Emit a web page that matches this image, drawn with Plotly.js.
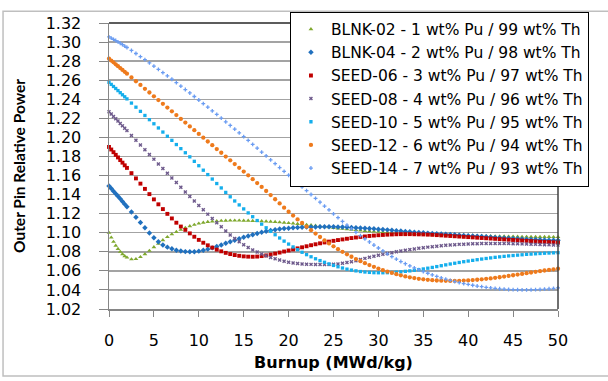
<!DOCTYPE html>
<html>
<head>
<meta charset="utf-8">
<script src="https://cdn.plot.ly/plotly-3.0.1.min.js"></script>
<style>html,body{margin:0;padding:0;background:#fff;}#chart{width:608px;height:381px;}</style>
</head>
<body>
<div id="chart"></div>
<script>
// Burnup (MWd/kg)
const burnup = [0,0.25,0.5,0.75,1,1.25,1.5,1.75,2,
 2.5,3,3.5,4,4.5,5,
 5.5,6,6.5,7,7.5,8,8.5,9,9.5,10,
 10.5,11,11.5,12,12.5,13,13.5,14,14.5,15,
 15.5,16,16.5,17,17.5,18,18.5,19,19.5,20,
 20.5,21,21.5,22,22.5,23,23.5,24,24.5,25,
 25.5,26,26.5,27,27.5,28,28.5,29,29.5,30,
 30.5,31,31.5,32,32.5,33,33.5,34,34.5,35,
 35.5,36,36.5,37,37.5,38,38.5,39,39.5,40,
 40.5,41,41.5,42,42.5,43,43.5,44,44.5,45,
 45.5,46,46.5,47,47.5,48,48.5,49,49.5,50];

const blnk02 = [1.1000,1.0950,1.0905,1.0865,1.0830,1.0800,1.0775,1.0755,1.0740,
 1.0722,1.0724,1.0745,1.0776,1.0811,1.0848,
 1.0886,1.0922,1.0955,1.0984,1.1009,1.1031,1.1052,1.1069,1.1084,1.1097,
 1.1106,1.1113,1.1118,1.1122,1.1125,1.1127,1.1128,1.1128,1.1128,1.1127,
 1.1126,1.1124,1.1123,1.1121,1.1119,1.1116,1.1113,1.1110,1.1106,1.1102,
 1.1098,1.1093,1.1089,1.1084,1.1079,1.1074,1.1068,1.1062,1.1057,1.1051,
 1.1046,1.1041,1.1036,1.1032,1.1028,1.1024,1.1020,1.1017,1.1013,1.1010,
 1.1007,1.1004,1.1001,1.0999,1.0996,1.0994,1.0992,1.0990,1.0988,1.0986,
 1.0984,1.0982,1.0981,1.0979,1.0977,1.0976,1.0974,1.0973,1.0971,1.0970,
 1.0969,1.0968,1.0966,1.0965,1.0964,1.0963,1.0962,1.0961,1.0960,1.0960,
 1.0959,1.0958,1.0958,1.0957,1.0957,1.0956,1.0956,1.0956,1.0955,1.0955];

const blnk04 = [1.1490,1.1463,1.1436,1.1410,1.1383,1.1356,1.1328,1.1300,1.1272,
 1.1217,1.1162,1.1107,1.1052,1.0998,1.0947,
 1.0905,1.0872,1.0849,1.0831,1.0817,1.0808,1.0802,1.0800,1.0801,1.0807,
 1.0816,1.0828,1.0841,1.0856,1.0872,1.0889,1.0906,1.0922,1.0937,1.0952,
 1.0966,1.0979,1.0992,1.1004,1.1015,1.1024,1.1032,1.1039,1.1044,1.1048,
 1.1052,1.1055,1.1057,1.1059,1.1060,1.1061,1.1062,1.1062,1.1062,1.1062,
 1.1061,1.1060,1.1058,1.1056,1.1053,1.1050,1.1047,1.1044,1.1041,1.1037,
 1.1034,1.1030,1.1026,1.1022,1.1018,1.1014,1.1010,1.1006,1.1002,1.0999,
 1.0996,1.0993,1.0990,1.0987,1.0984,1.0981,1.0978,1.0975,1.0972,1.0969,
 1.0966,1.0963,1.0960,1.0957,1.0954,1.0951,1.0948,1.0945,1.0942,1.0940,
 1.0937,1.0935,1.0932,1.0930,1.0928,1.0926,1.0924,1.0922,1.0921,1.0920];

const seed06 = [1.1900,1.1873,1.1845,1.1817,1.1790,1.1762,1.1735,1.1707,1.1680,
 1.1625,1.1570,1.1515,1.1460,1.1405,1.1350,
 1.1298,1.1248,1.1198,1.1150,1.1105,1.1065,1.1030,1.0993,1.0958,1.0925,
 1.0895,1.0868,1.0844,1.0823,1.0805,1.0789,1.0776,1.0766,1.0758,1.0752,
 1.0749,1.0748,1.0750,1.0755,1.0762,1.0771,1.0781,1.0792,1.0803,1.0814,
 1.0825,1.0836,1.0847,1.0858,1.0869,1.0879,1.0889,1.0898,1.0907,1.0915,
 1.0923,1.0930,1.0937,1.0944,1.0950,1.0956,1.0961,1.0966,1.0970,1.0974,
 1.0977,1.0980,1.0982,1.0984,1.0985,1.0985,1.0985,1.0984,1.0983,1.0982,
 1.0980,1.0978,1.0975,1.0972,1.0969,1.0966,1.0963,1.0960,1.0957,1.0954,
 1.0951,1.0948,1.0945,1.0942,1.0939,1.0936,1.0933,1.0930,1.0927,1.0924,
 1.0921,1.0918,1.0915,1.0912,1.0909,1.0906,1.0904,1.0902,1.0900,1.0898];

const seed08 = [1.2270,1.2245,1.2220,1.2196,1.2171,1.2146,1.2121,1.2096,1.2071,
 1.2021,1.1971,1.1921,1.1871,1.1821,1.1772,
 1.1722,1.1673,1.1624,1.1575,1.1526,1.1477,1.1428,1.1380,1.1333,1.1286,
 1.1240,1.1195,1.1150,1.1105,1.1062,1.1018,1.0977,1.0940,1.0906,1.0873,
 1.0845,1.0820,1.0797,1.0777,1.0758,1.0741,1.0726,1.0713,1.0701,1.0691,
 1.0683,1.0677,1.0673,1.0670,1.0668,1.0667,1.0666,1.0666,1.0667,1.0669,
 1.0673,1.0679,1.0687,1.0696,1.0707,1.0719,1.0731,1.0742,1.0753,1.0763,
 1.0773,1.0782,1.0791,1.0800,1.0808,1.0816,1.0823,1.0830,1.0837,1.0843,
 1.0849,1.0854,1.0859,1.0864,1.0868,1.0872,1.0875,1.0878,1.0880,1.0882,
 1.0884,1.0885,1.0886,1.0887,1.0887,1.0887,1.0887,1.0887,1.0886,1.0885,
 1.0884,1.0883,1.0881,1.0880,1.0878,1.0876,1.0874,1.0873,1.0871,1.0870];

const seed10 = [1.2578,1.2556,1.2534,1.2513,1.2491,1.2469,1.2447,1.2426,1.2404,
 1.2360,1.2317,1.2273,1.2230,1.2186,1.2143,
 1.2099,1.2056,1.2012,1.1969,1.1925,1.1882,1.1839,1.1796,1.1749,1.1703,
 1.1656,1.1610,1.1563,1.1516,1.1470,1.1423,1.1377,1.1333,1.1292,1.1250,
 1.1208,1.1168,1.1128,1.1090,1.1052,1.1015,1.0979,1.0945,1.0912,1.0881,
 1.0851,1.0822,1.0795,1.0770,1.0748,1.0727,1.0708,1.0690,1.0673,1.0657,
 1.0643,1.0630,1.0618,1.0608,1.0600,1.0593,1.0588,1.0584,1.0581,1.0580,
 1.0580,1.0581,1.0583,1.0586,1.0590,1.0595,1.0600,1.0606,1.0613,1.0620,
 1.0628,1.0636,1.0645,1.0654,1.0663,1.0672,1.0680,1.0688,1.0696,1.0703,
 1.0710,1.0717,1.0724,1.0730,1.0736,1.0742,1.0747,1.0752,1.0757,1.0761,
 1.0765,1.0769,1.0773,1.0776,1.0779,1.0782,1.0785,1.0787,1.0789,1.0791];

const seed12 = [1.2826,1.2806,1.2787,1.2767,1.2747,1.2727,1.2708,1.2688,1.2668,
 1.2629,1.2589,1.2550,1.2510,1.2471,1.2431,
 1.2392,1.2352,1.2313,1.2273,1.2234,1.2194,1.2155,1.2115,1.2076,1.2036,
 1.1997,1.1957,1.1918,1.1878,1.1839,1.1799,1.1760,1.1720,1.1681,1.1641,
 1.1602,1.1562,1.1521,1.1480,1.1438,1.1395,1.1351,1.1307,1.1263,1.1220,
 1.1180,1.1140,1.1102,1.1064,1.1027,1.0991,1.0955,1.0920,1.0888,1.0857,
 1.0828,1.0800,1.0773,1.0748,1.0724,1.0702,1.0681,1.0661,1.0642,1.0624,
 1.0607,1.0592,1.0578,1.0565,1.0553,1.0542,1.0532,1.0524,1.0517,1.0511,
 1.0506,1.0502,1.0499,1.0497,1.0496,1.0495,1.0495,1.0496,1.0498,1.0500,
 1.0503,1.0507,1.0511,1.0516,1.0521,1.0527,1.0533,1.0540,1.0547,1.0554,
 1.0561,1.0568,1.0576,1.0583,1.0590,1.0597,1.0604,1.0610,1.0616,1.0622];

const seed14 = [1.3054,1.3042,1.3029,1.3016,1.3002,1.2988,1.2973,1.2958,1.2943,
 1.2912,1.2880,1.2848,1.2815,1.2782,1.2748,
 1.2714,1.2680,1.2645,1.2610,1.2574,1.2538,1.2502,1.2466,1.2429,1.2392,
 1.2355,1.2317,1.2279,1.2241,1.2203,1.2164,1.2125,1.2086,1.2047,1.2008,
 1.1968,1.1927,1.1887,1.1846,1.1806,1.1765,1.1725,1.1684,1.1644,1.1603,
 1.1563,1.1522,1.1482,1.1441,1.1401,1.1360,1.1320,1.1279,1.1239,1.1198,
 1.1158,1.1118,1.1079,1.1041,1.1005,1.0970,1.0936,1.0903,1.0871,1.0840,
 1.0809,1.0779,1.0750,1.0723,1.0698,1.0675,1.0653,1.0632,1.0612,1.0593,
 1.0575,1.0558,1.0542,1.0527,1.0513,1.0500,1.0488,1.0477,1.0467,1.0458,
 1.0449,1.0441,1.0434,1.0427,1.0421,1.0416,1.0412,1.0408,1.0405,1.0403,
 1.0402,1.0401,1.0401,1.0402,1.0403,1.0405,1.0408,1.0412,1.0416,1.0421];

const seriesNames = [
 'BLNK-02 - 1 wt% Pu / 99 wt% Th',
 'BLNK-04 - 2 wt% Pu / 98 wt% Th',
 'SEED-06 - 3 wt% Pu / 97 wt% Th',
 'SEED-08 - 4 wt% Pu / 96 wt% Th',
 'SEED-10 - 5 wt% Pu / 95 wt% Th',
 'SEED-12 - 6 wt% Pu / 94 wt% Th',
 'SEED-14 - 7 wt% Pu / 93 wt% Th'];
const seriesValues = [blnk02, blnk04, seed06, seed08, seed10, seed12, seed14];

const styles = [
 {symbol:'triangle-up', color:'#7FA82E', size:4.2},
 {symbol:'diamond', color:'#2070BE', size:4.2},
 {symbol:'square', color:'#C00000', size:3.9},
 {symbol:'x', color:'#6E5A8C', size:3.5},
 {symbol:'square', color:'#14AEEC', size:3.3},
 {symbol:'circle', color:'#EE7A1C', size:4.3},
 {symbol:'cross', color:'#6A9CF2', size:3.2}
];

const traces = seriesValues.map((vals, i) => ({
  type:'scatter', mode:'markers', name:seriesNames[i],
  x:burnup, y:vals, cliponaxis:false,
  marker:{symbol:styles[i].symbol, color:styles[i].color, size:styles[i].size, line:{width:0}}
}));

const FONT = '"DejaVu Sans", sans-serif';

const layout = {
  width:608, height:381,
  margin:{l:109, r:50, t:15, b:72},
  paper_bgcolor:'#ffffff', plot_bgcolor:'#ffffff',
  font:{family:FONT, size:16, color:'#000'},
  xaxis:{range:[0,50], tick0:0, dtick:5, showgrid:false, zeroline:false,
    showline:true, linecolor:'#868686', linewidth:1.5, mirror:false,
    ticks:'outside', ticklen:6, tickcolor:'#868686', tickwidth:1, ticklabelstandoff:10,
    tickfont:{size:16},
    title:{text:'<b>Burnup (MWd/kg)</b>', font:{size:16}, standoff:8}},
  yaxis:{range:[1.02,1.32], tick0:1.02, dtick:0.02, tickformat:'.2f', showgrid:true,
    gridcolor:'#A3A3A3', gridwidth:1.5, zeroline:false,
    showline:true, linecolor:'#868686', linewidth:1.5, mirror:false,
    ticks:'outside', ticklen:9, tickcolor:'#868686', tickwidth:1, ticklabelstandoff:14,
    tickfont:{size:16},
    title:{text:'<b>Outer Pin Relative Power</b>', font:{family:'Lato, sans-serif', size:15.5}, standoff:16}},
  legend:{x:0.403, y:1.04, xanchor:'left', yanchor:'top', bordercolor:'#000000', borderwidth:1,
    bgcolor:'#ffffff', font:{size:15.5}, itemwidth:30, tracegroupgap:0},
  shapes:[
    {type:'rect', xref:'paper', yref:'paper', x0:-0.236, x1:1.2, y0:-0.2347, y1:1.0408,
      line:{color:'#BFBFBF', width:1.5}, layer:'below'},
    {type:'line', xref:'paper', yref:'paper', x0:0, x1:1, y0:1, y1:1,
      line:{color:'#262626', width:1.5}, layer:'above'},
    {type:'line', xref:'paper', yref:'paper', x0:1, x1:1, y0:0, y1:1,
      line:{color:'#404040', width:1.5}, layer:'above'}
  ],
  showlegend:true
};

Plotly.newPlot('chart', traces, layout, {displayModeBar:false, staticPlot:true});
</script>
</body>
</html>
